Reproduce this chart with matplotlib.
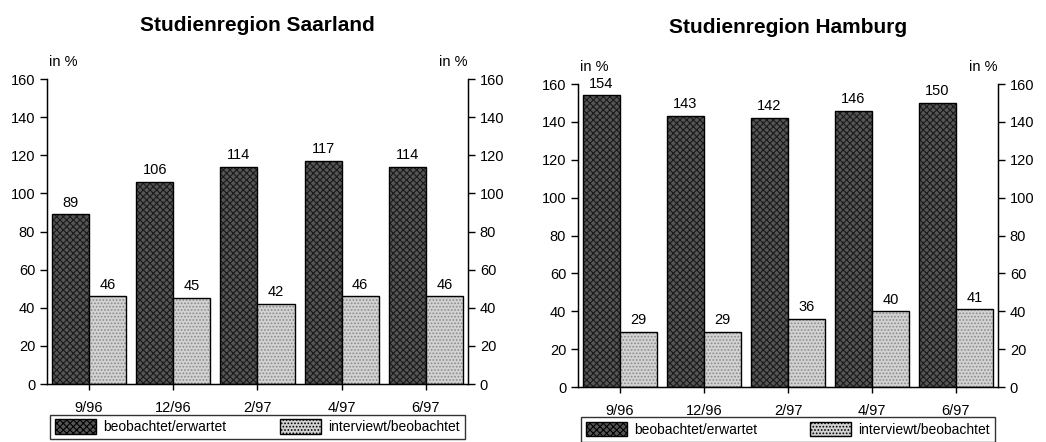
import matplotlib.pyplot as plt
from matplotlib.patches import Patch
import numpy as np

plt.rcParams['font.family'] = ['Liberation Sans', 'DejaVu Sans']
plt.rcParams['hatch.linewidth'] = 0.8

# Data
dates = ["9/96", "12/96", "2/97", "4/97", "6/97"]
saar_beob_erw = [89, 106, 114, 117, 114]
saar_int_beob = [46, 45, 42, 46, 46]
hh_beob_erw = [154, 143, 142, 146, 150]
hh_int_beob = [29, 29, 36, 40, 41]

DARK = '#555555'
LIGHT = '#d2d2d2'


def hatched_bars(ax, x, vals, face, hatch_col, hatch):
    # fill + pattern first, then a clean black outline on top
    ax.bar(x, vals, width=0.44, align='edge', color=face, edgecolor=hatch_col,
           hatch=hatch, linewidth=0)
    ax.bar(x, vals, width=0.44, align='edge', fill=False, edgecolor='black',
           linewidth=1.0)


def draw_panel(ax, title, beob, intv, title_y):
    x = np.arange(len(dates))
    hatched_bars(ax, x - 0.44, beob, DARK, '#1a1a1a', 'xxxxx')
    hatched_bars(ax, x, intv, LIGHT, '#8a8a8a', '.....')

    for xi, v in zip(x, beob):
        ax.text(xi - 0.22, v + 2.5, str(v), ha='center', va='bottom', fontsize=10.5)
    for xi, v in zip(x, intv):
        ax.text(xi + 0.22, v + 2.5, str(v), ha='center', va='bottom', fontsize=10.5)

    ax.set_xlim(-0.5, 4.5)
    ax.set_ylim(0, 160)
    ax.set_yticks(range(0, 161, 20))
    ax.set_xticks(x)
    ax.set_xticklabels(dates, fontsize=10.5)
    ax.tick_params(axis='y', labelsize=10.5, length=5, width=1)
    ax.tick_params(axis='x', length=4, width=1, pad=8)
    ax.spines['top'].set_visible(False)
    for s in ['left', 'right', 'bottom']:
        ax.spines[s].set_linewidth(1.0)

    ax2 = ax.twinx()
    ax2.set_ylim(0, 160)
    ax2.set_yticks(range(0, 161, 20))
    ax2.tick_params(axis='y', labelsize=10.5, length=5, width=1)
    ax2.spines['top'].set_visible(False)

    ax.text(0.005, 1.043, "in %", transform=ax.transAxes, ha='left', va='baseline', fontsize=10.5)
    ax.text(1.0, 1.043, "in %", transform=ax.transAxes, ha='right', va='baseline', fontsize=10.5)
    ax.text(0.5, title_y, title, transform=ax.transAxes, ha='center', va='baseline',
            fontsize=15, fontweight='bold')

    handles = [Patch(facecolor=DARK, edgecolor='black', hatch='xxxxx'),
               Patch(facecolor=LIGHT, edgecolor='black', hatch='.....')]
    leg = ax.legend(handles, ["beobachtet/erwartet", "interviewt/beobachtet"],
                    loc='upper left', bbox_to_anchor=(0.007, -0.30, 0.985, 0.2),
                    mode='expand', ncol=2, fontsize=10, frameon=True, fancybox=False,
                    borderpad=0.35, handlelength=3.0, handleheight=1.2,
                    handletextpad=0.5, columnspacing=1.5, borderaxespad=0)
    leg.get_frame().set_edgecolor('black')
    leg.get_frame().set_linewidth(1.0)


fig = plt.figure(figsize=(10.46, 4.42), dpi=100)
ax_s = fig.add_axes([0.0449, 0.1312, 0.4025, 0.690])
ax_h = fig.add_axes([0.5526, 0.1244, 0.4015, 0.6855])

draw_panel(ax_s, "Studienregion Saarland", saar_beob_erw, saar_int_beob, 1.157)
draw_panel(ax_h, "Studienregion Hamburg", hh_beob_erw, hh_int_beob, 1.168)

fig.savefig("out.png", dpi=100)
